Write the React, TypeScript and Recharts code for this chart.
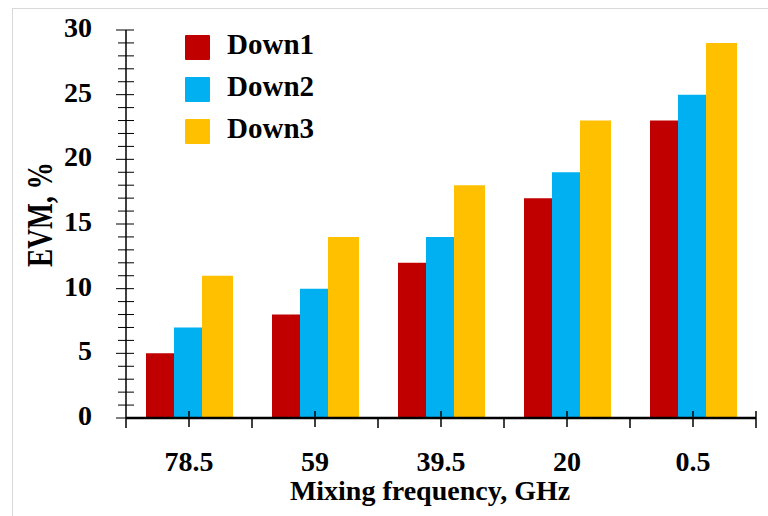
import { Bar, BarChart, Legend, XAxis, YAxis } from "recharts";

const categories = ["78.5", "59", "39.5", "20", "0.5"];
const down1 = [5, 8, 12, 17, 23];
const down2 = [7, 10, 14, 19, 25];
const down3 = [11, 14, 18, 23, 29];
const yTicks = [0, 1, 2, 3, 4, 5, 6, 7, 8, 9, 10, 11, 12, 13, 14, 15, 16, 17, 18, 19, 20, 21, 22, 23, 24, 25, 26, 27, 28, 29, 30];

const FONT = '"Liberation Serif", "Times New Roman", serif';

const SERIES = [
  { key: "down1", name: "Down1", color: "#C00000", size: 28 },
  { key: "down2", name: "Down2", color: "#00B0F0", size: 28 },
  { key: "down3", name: "Down3", color: "#FFC000", size: 31 },
];

const data = categories.map((cat, i) => ({
  cat,
  down1: down1[i],
  down2: down2[i],
  down3: down3[i],
}));

function YTick(props: any) {
  const { x, y, payload } = props;
  const major = payload.value % 5 === 0;
  return (
    <g>
      <line x1={major ? x - 10 : x - 8} x2={x + 8} y1={y} y2={y} stroke="#000" strokeWidth={1} />
      {major && (
        <text
          x={x - 34}
          y={y + 7}
          textAnchor="end"
          fontFamily={FONT}
          fontWeight="bold"
          fontSize={28}
          fill="#000"
        >
          {payload.value}
        </text>
      )}
    </g>
  );
}

function XTick(props: any) {
  const { x, y, payload, index, width, visibleTicksCount } = props;
  const half = width / visibleTicksCount / 2;
  const last = index === visibleTicksCount - 1;
  return (
    <g>
      <line x1={x} x2={x} y1={y - 7} y2={y + 9} stroke="#000" strokeWidth={1.5} />
      <line x1={x - half} x2={x - half} y1={y} y2={y + 10} stroke="#000" strokeWidth={1.5} />
      {last && <line x1={x + half} x2={x + half} y1={y - 7} y2={y + 10} stroke="#000" strokeWidth={1.5} />}
      <text x={x} y={y + 53} textAnchor="middle" fontFamily={FONT} fontWeight="bold" fontSize={28} fill="#000">
        {payload.value}
      </text>
    </g>
  );
}

function YTitle() {
  return (
    <text
      transform="translate(52, 214.5) rotate(-90) scale(0.76, 1)"
      textAnchor="middle"
      fontFamily={FONT}
      fontWeight="bold"
      fontSize={36}
      fill="#000"
    >
      EVM, %
    </text>
  );
}

function XTitle() {
  return (
    <text x={430} y={500} textAnchor="middle" fontFamily={FONT} fontWeight="bold" fontSize={28} fill="#000">
      Mixing frequency, GHz
    </text>
  );
}

function LegendBox() {
  return (
    <div>
      {SERIES.map((s) => (
        <div key={s.key} style={{ display: "flex", height: 42 }}>
          <div style={{ width: 25, height: 25, background: s.color, borderRadius: 1 }} />
          <div
            style={{
              marginLeft: 17,
              fontFamily: FONT,
              fontWeight: "bold",
              fontSize: 29,
              lineHeight: "25px",
              position: "relative",
              top: -3,
              color: "#000",
            }}
          >
            {s.name}
          </div>
        </div>
      ))}
    </div>
  );
}

export default function App() {
  return (
    <div
      style={{
        position: "absolute",
        left: 0,
        top: 0,
        width: 768,
        height: 516,
        overflow: "hidden",
        background: "#fff",
      }}
    >
      <div
        style={{
          position: "absolute",
          left: 12,
          top: 8,
          width: 800,
          height: 600,
          borderLeft: "1.5px solid #d9d9d9",
          borderTop: "1.5px solid #d9d9d9",
        }}
      />
      <BarChart
        width={768}
        height={516}
        data={data}
        margin={{ top: 30, right: 12, bottom: 0, left: 0 }}
        barGap={0}
        style={{ position: "absolute", left: 0, top: 0 }}
      >
        <XAxis
          dataKey="cat"
          height={98}
          interval={0}
          tickSize={0}
          tickMargin={0}
          tickLine={false}
          axisLine={{ stroke: "#000", strokeWidth: 2.5 }}
          tick={<XTick />}
          label={<XTitle />}
        />
        <YAxis
          width={126}
          domain={[0, 30]}
          ticks={yTicks}
          interval={0}
          tickSize={0}
          tickMargin={0}
          tickLine={false}
          axisLine={{ stroke: "#000", strokeWidth: 1.5 }}
          tick={<YTick />}
          label={<YTitle />}
        />
        <Legend
          layout="vertical"
          align="center"
          verticalAlign="middle"
          content={<LegendBox />}
          wrapperStyle={{ left: 185, top: 35, width: "auto", height: "auto" }}
        />
        {SERIES.map((s) => (
          <Bar
            key={s.key}
            dataKey={s.key}
            name={s.name}
            fill={s.color}
            barSize={s.size}
            isAnimationActive={false}
          />
        ))}
      </BarChart>
    </div>
  );
}
